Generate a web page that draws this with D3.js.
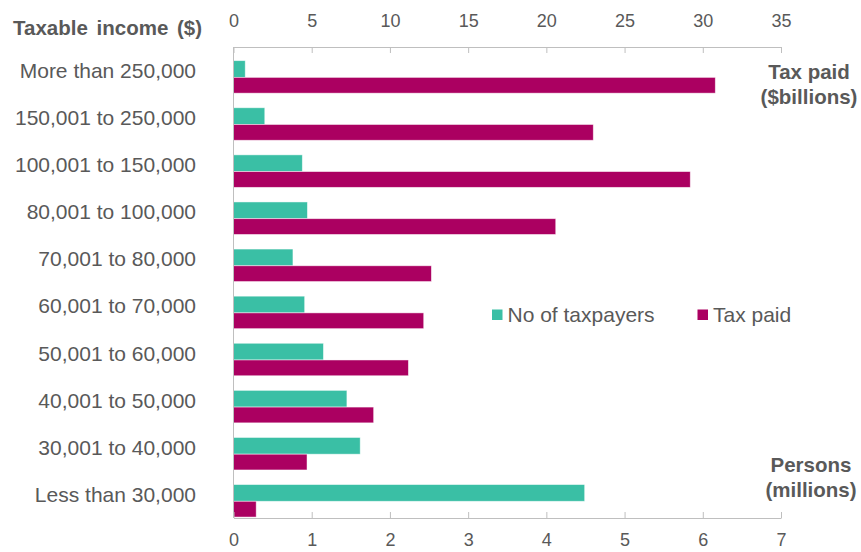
<!DOCTYPE html>
<html>
<head>
<meta charset="utf-8">
<script src="https://cdn.jsdelivr.net/npm/d3@7"></script>
<style>
  html, body { margin: 0; padding: 0; background: #fff; }
  svg { display: block; font-family: "Liberation Sans", Arial, sans-serif; }
</style>
</head>
<body>
<div id="chart"></div>
<script>
// ---- Data ----
const categories = [
  'More than 250,000', '150,001 to 250,000', '100,001 to 150,000',
  '80,001 to 100,000', '70,001 to 80,000', '60,001 to 70,000',
  '50,001 to 60,000', '40,001 to 50,000', '30,001 to 40,000',
  'Less than 30,000'
];
// persons, millions (bottom axis)
const taxpayers = [0.15, 0.40, 0.88, 0.945, 0.76, 0.91, 1.15, 1.45, 1.62, 4.49];
// tax paid, $billions (top axis)
const taxPaid = [30.8, 23.0, 29.2, 20.6, 12.65, 12.16, 11.18, 8.96, 4.7, 1.45];
const taxTicks = [0, 5, 10, 15, 20, 25, 30, 35];
const personTicks = [0, 1, 2, 3, 4, 5, 6, 7];
const seriesNames = ['No of taxpayers', 'Tax paid'];

// ---- Setup ----
const width = 861, height = 552;
const plot = { left: 233.5, right: 781, top: 47, bottom: 518 };
const teal = '#3abfa5', magenta = '#ab0061', grey = '#595959', axisGrey = '#bfbfbf';

const svg = d3.select('#chart').append('svg')
  .attr('width', width)
  .attr('height', height);

const xTax = d3.scaleLinear().domain([0, 35]).range([plot.left, plot.right]);
const xPers = d3.scaleLinear().domain([0, 7]).range([plot.left, plot.right]);
const y = d3.scaleBand().domain(categories).range([plot.top, plot.bottom]);
const bw = y.bandwidth();

// ---- Bars ----
const rows = categories.map((c, i) => ({ c, persons: taxpayers[i], tax: taxPaid[i] }));

svg.append('g').selectAll('rect')
  .data(rows)
  .join('rect')
  .attr('x', xPers(0))
  .attr('y', d => y(d.c) + bw * 0.29)
  .attr('width', d => xPers(d.persons) - xPers(0))
  .attr('height', bw * 0.355)
  .attr('fill', teal)
  .attr('stroke', '#fff')
  .attr('stroke-opacity', 0.6)
  .attr('stroke-width', 0.8);

svg.append('g').selectAll('rect')
  .data(rows)
  .join('rect')
  .attr('x', xTax(0))
  .attr('y', d => y(d.c) + bw * 0.645)
  .attr('width', d => xTax(d.tax) - xTax(0))
  .attr('height', bw * 0.335)
  .attr('fill', magenta)
  .attr('stroke', '#fff')
  .attr('stroke-opacity', 0.6)
  .attr('stroke-width', 0.8);

// ---- Axes ----
const topAxis = svg.append('g')
  .attr('transform', `translate(0,${plot.top})`)
  .call(d3.axisTop(xTax).tickValues(taxTicks).tickFormat(d3.format('d'))
    .tickSize(-6).tickSizeOuter(0).tickPadding(20));

const bottomAxis = svg.append('g')
  .attr('transform', `translate(0,${plot.bottom})`)
  .call(d3.axisBottom(xPers).tickValues(personTicks).tickFormat(d3.format('d'))
    .tickSize(-6).tickSizeOuter(0).tickPadding(15));

[topAxis, bottomAxis].forEach(ax => {
  ax.select('.domain').attr('stroke', axisGrey);
  ax.selectAll('.tick line').attr('stroke', axisGrey);
  ax.selectAll('.tick text')
    .attr('fill', grey)
    .attr('font-size', '18px')
    .attr('font-family', '"Liberation Sans", Arial, sans-serif');
});

// vertical category axis line
svg.append('line')
  .attr('x1', plot.left).attr('x2', plot.left)
  .attr('y1', plot.top).attr('y2', plot.bottom)
  .attr('stroke', axisGrey);

// ---- Category labels ----
svg.append('g').selectAll('text')
  .data(categories)
  .join('text')
  .attr('x', 196)
  .attr('y', d => y(d) + bw / 2)
  .attr('dy', '0.35em')
  .attr('text-anchor', 'end')
  .attr('fill', grey)
  .attr('font-size', '21px')
  .text(d => d);

// ---- Titles ----
svg.append('text')
  .attr('x', 13).attr('y', 35)
  .attr('fill', grey)
  .attr('font-size', '20.5px')
  .attr('font-weight', 'bold')
  .attr('word-spacing', '3px')
  .text('Taxable income ($)');

function stackedLabel(lines, cx, y0) {
  svg.append('g').selectAll('text')
    .data(lines)
    .join('text')
    .attr('x', cx)
    .attr('y', (d, i) => y0 + i * 25)
    .attr('text-anchor', 'middle')
    .attr('fill', grey)
    .attr('font-size', '20.5px')
    .attr('font-weight', 'bold')
    .text(d => d);
}
stackedLabel(['Tax paid', '($billions)'], 809, 79);
stackedLabel(['Persons', '(millions)'], 811, 472);

// ---- Legend ----
const legend = svg.append('g');
const legendX = [492, 697.5];
const legendColors = [teal, magenta];
seriesNames.forEach((name, i) => {
  legend.append('rect')
    .attr('x', legendX[i]).attr('y', 309.5)
    .attr('width', 10.5).attr('height', 10.5)
    .attr('fill', legendColors[i]);
  legend.append('text')
    .attr('x', legendX[i] + 15.5).attr('y', 315)
    .attr('dy', '0.35em')
    .attr('fill', grey)
    .attr('font-size', '21px')
    .text(name);
});
</script>
</body>
</html>
